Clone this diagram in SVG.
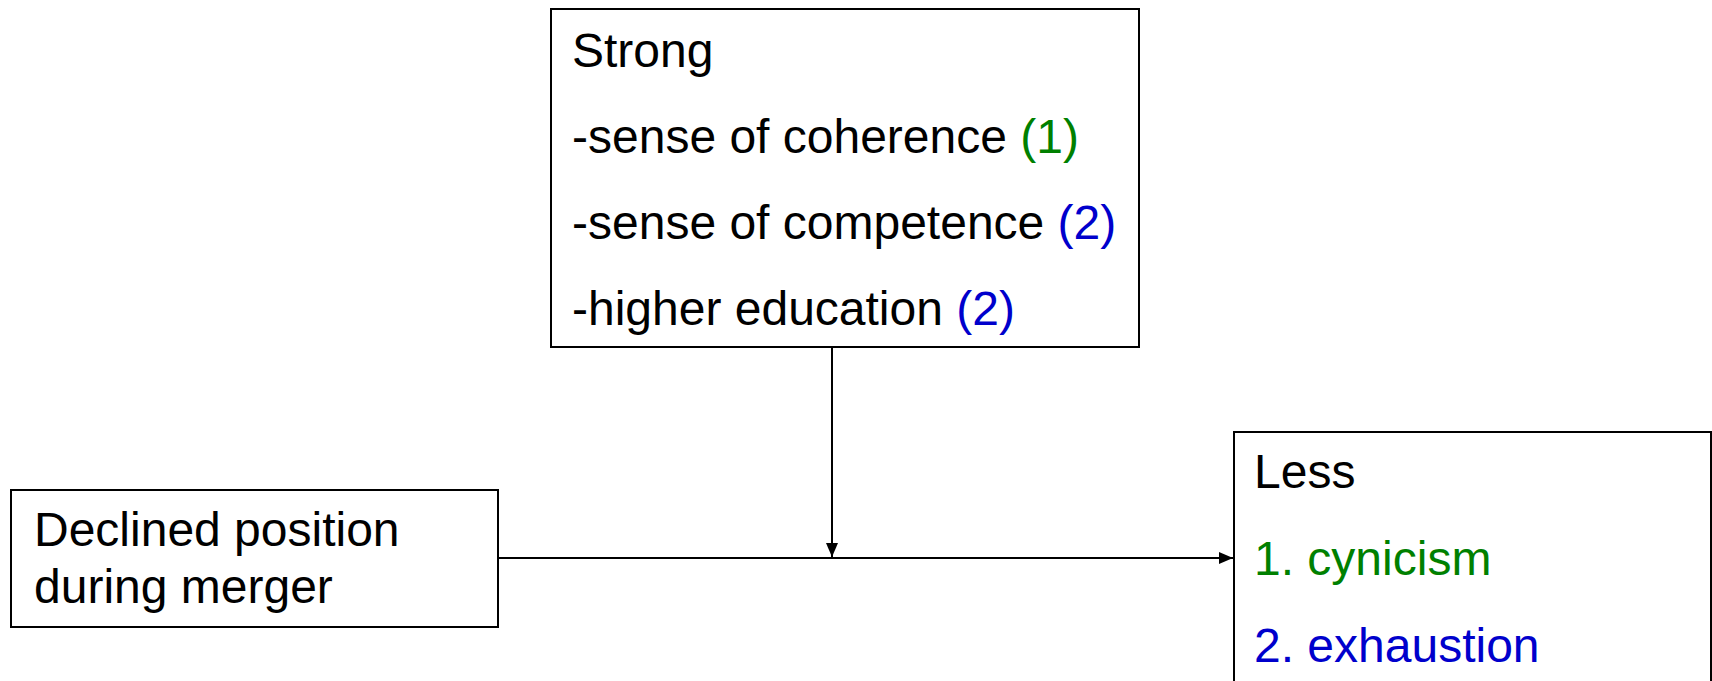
<svg xmlns="http://www.w3.org/2000/svg" width="1712" height="681" viewBox="0 0 1712 681">
<defs>
<style>
.box{fill:#fff;stroke:#000;stroke-width:2}
.t{font-family:"Liberation Sans",Arial,sans-serif;font-size:48px;fill:#000}
.g{fill:#008000}
.b{fill:#0000cc}
.c{stroke:#000;stroke-width:2;fill:none}
</style>
<marker id="ah" markerWidth="14" markerHeight="12" refX="14" refY="6" orient="auto" markerUnits="userSpaceOnUse">
<path d="M0,0 L14,6 L0,12 Z" fill="#000"/>
</marker>
</defs>
<rect width="1712" height="681" fill="#fff"/>
<g id="connectors">
<line class="c" x1="498" y1="558" x2="1233" y2="558" marker-end="url(#ah)"/>
<line class="c" x1="832" y1="347" x2="832" y2="557" marker-end="url(#ah)"/>
</g>
<g id="moderators">
<rect class="box" x="551" y="9" width="588" height="338"/>
<text class="t" x="572" y="67">Strong</text>
<text class="t" x="572" y="153">-sense of coherence <tspan class="g">(1)</tspan></text>
<text class="t" x="572" y="239">-sense of competence <tspan class="b">(2)</tspan></text>
<text class="t" x="572" y="325">-higher education <tspan class="b">(2)</tspan></text>
</g>
<g id="predictor">
<rect class="box" x="11" y="490" width="487" height="137"/>
<text class="t" x="34" y="546">Declined position</text>
<text class="t" x="34" y="603">during merger</text>
</g>
<g id="outcome">
<rect class="box" x="1234" y="432" width="477" height="270"/>
<text class="t" x="1254" y="488">Less</text>
<text class="t g" x="1254" y="575">1. cynicism</text>
<text class="t b" x="1254" y="662">2. exhaustion</text>
</g>
</svg>
